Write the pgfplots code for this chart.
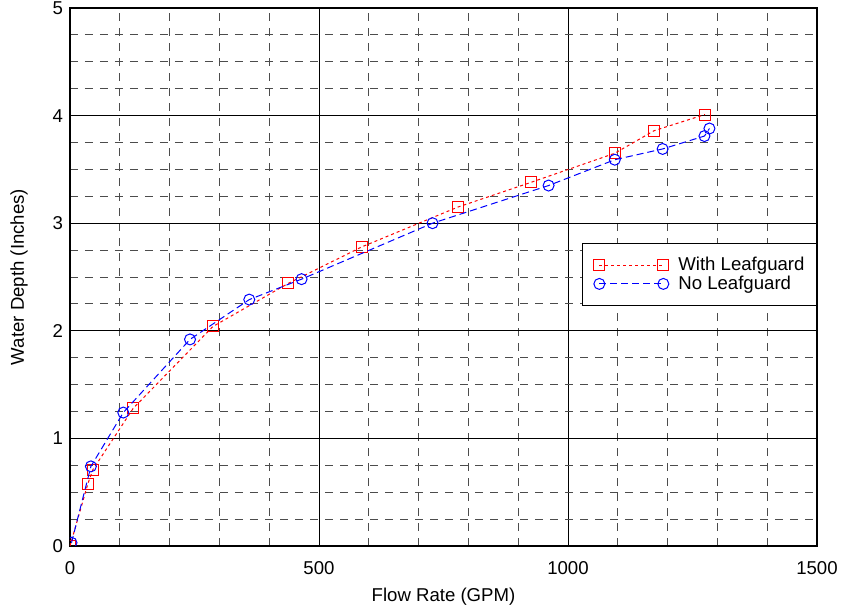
\documentclass[border=0pt]{standalone}
\usepackage{fontspec}
\setmainfont{Liberation Sans}
\usepackage{pgfplots}
\pgfplotsset{compat=1.18}
\newcommand{\fs}{\fontsize{9.3bp}{11bp}\selectfont}
\pgfplotstableread{
x y
0 0
36 0.58
46 0.71
127 1.28
287 2.04
438 2.44
586 2.78
779 3.15
926 3.38
1094 3.65
1173 3.86
1275 4.01
}\withlg
\pgfplotstableread{
x y
3 0.03
42 0.74
107 1.24
241 1.92
360 2.29
465 2.48
728 3.00
961 3.35
1094 3.59
1190 3.69
1274 3.81
1284 3.88
}\nolg
\begin{document}
\begin{tikzpicture}
\begin{axis}[
  name=ax,
  scale only axis,
  width=373.5bp, height=269bp,
  xmin=0, xmax=1500, ymin=0, ymax=5,
  xtick={0,500,1000,1500}, ytick={0,1,2,3,4,5},
  minor x tick num=4, minor y tick num=3,
  grid=both,
  major grid style={black, line width=0.5bp},
  minor grid style={black!70, line width=0.5bp, dash pattern=on 4bp off 3.5bp},
  major tick length=0pt, minor tick length=0pt,
  axis line style={black, line width=0.6bp},
  tick label style={font=\fs},
  /pgf/number format/assume math mode=true,
  /pgf/number format/1000 sep={},
  scaled x ticks=false,
  xticklabel style={yshift=-4.3bp},
  xlabel={Flow Rate (GPM)},
  ylabel={Water Depth (Inches)},
  xlabel style={font=\fs, at={(axis description cs:0.5,-0.0948)}, anchor=center},
  ylabel style={font=\fs, at={(axis description cs:-0.0683,0.5)}, anchor=center, rotate=0},
  clip mode=individual,
  clip marker paths=true,
  legend cell align=left,
  legend style={font=\fs, at={(rel axis cs:1,0.563)}, anchor=north east,
    draw=black, line width=0.5bp, fill=white, inner xsep=5.5bp, inner ysep=6.3bp,
    row sep=0bp, column sep=4.25bp, nodes={inner xsep=0.5bp, inner ysep=0.5bp}},
  legend image code/.code={\draw[#1] plot coordinates {(0bp,0bp) (32bp,0bp)};},
]
\addplot[red, line width=0.5bp, dash pattern=on 1.5bp off 1.5bp, mark=square,
  mark size=2.75bp, mark options={solid, line width=0.5bp}] table {\withlg};
\addlegendentry{With Leafguard}
\addplot[blue, line width=0.5bp, dash pattern=on 3.5bp off 2bp, mark=o,
  mark size=2.75bp, mark options={solid, line width=0.5bp}] table {\nolg};
\addlegendentry{No Leafguard}
\end{axis}
\pgfresetboundingbox
\path ([shift={(-35bp,-34.5bp)}]ax.south west) rectangle ([shift={(12bp,4bp)}]ax.north east);
\end{tikzpicture}
\end{document}
